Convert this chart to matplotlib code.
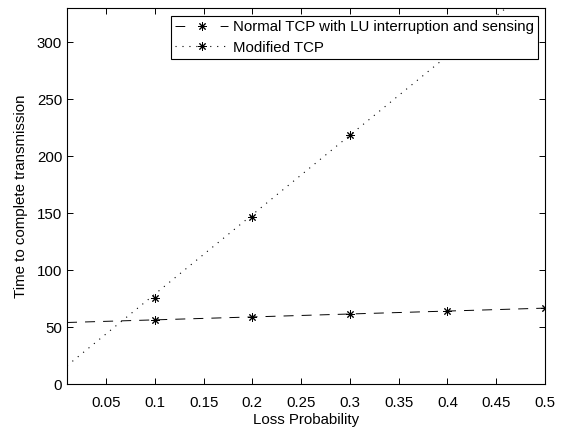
import matplotlib
matplotlib.use("Agg")
import matplotlib.pyplot as plt
from matplotlib.lines import Line2D

# measured points
loss_prob = [0.1, 0.2, 0.3, 0.4, 0.5]
normal_tcp = [56.2, 59.4, 61.3, 64.2, 66.7]
modified_prob = [0.1, 0.2, 0.3]
modified_tcp = [76, 147, 219]

# linear fits drawn across the whole range
fit_prob = [0.01, 0.5]
normal_fit = [54.2, 66.8]
modified_fit = [16.3, 357.8]

xticks = [0.05, 0.1, 0.15, 0.2, 0.25, 0.3, 0.35, 0.4, 0.45, 0.5]
xtick_labels = ["0.05", "0.1", "0.15", "0.2", "0.25", "0.3", "0.35", "0.4", "0.45", "0.5"]
yticks = [0, 50, 100, 150, 200, 250, 300]

plt.rcParams['font.family'] = ['Liberation Sans', 'DejaVu Sans']
plt.rcParams['font.size'] = 10.8
plt.rcParams['lines.scale_dashes'] = False

dash_style = (0, (7.2, 5.8))
dot_style = (0, (0.8, 4.2))
star = (8, 2, 0)

fig = plt.figure(figsize=(5.64, 4.34), dpi=100)
ax = fig.add_axes([0.1188, 0.1145, 0.8475, 0.8671])

ax.plot(fit_prob, normal_fit, color='k', lw=0.7, linestyle=dash_style)
ax.plot(fit_prob, modified_fit, color='k', lw=0.8, linestyle=dot_style)
ax.plot(loss_prob, normal_tcp, linestyle='none', marker=star, ms=6,
        mec='k', mew=0.7, color='k')
ax.plot(modified_prob, modified_tcp, linestyle='none', marker=star, ms=6,
        mec='k', mew=0.7, color='k')

ax.set_xlim(0.01, 0.5)
ax.set_ylim(0, 330)
ax.set_xticks(xticks)
ax.set_xticklabels(xtick_labels)
ax.set_yticks(yticks)
ax.tick_params(direction='in', length=4, width=0.7, top=True, right=True)
ax.tick_params(axis='x', pad=8.5)
ax.tick_params(axis='y', pad=3.5)
for s in ax.spines.values():
    s.set_linewidth(0.8)

ax.set_xlabel('Loss Probability', labelpad=2)
ax.set_ylabel('Time to complete transmission', labelpad=6)

# legend sample: one dash each side of the marker
handles = [
    Line2D([], [], color='k', lw=0.7, linestyle=(0, (7.0, 25.5)), marker=star,
           ms=6, mew=0.7),
    Line2D([], [], color='k', lw=0.8, linestyle=dot_style, marker=star,
           ms=6, mew=0.7),
]
leg = ax.legend(handles, ['Normal TCP with LU interruption and sensing', 'Modified TCP'],
                loc='upper right', bbox_to_anchor=(0.9854, 0.9787),
                borderaxespad=0, numpoints=1, handlelength=3.55,
                handletextpad=0.3, labelspacing=0.42, borderpad=0.28,
                fancybox=False, framealpha=1, edgecolor='k')
leg.get_frame().set_linewidth(0.8)

fig.savefig('out.png', dpi=100)
